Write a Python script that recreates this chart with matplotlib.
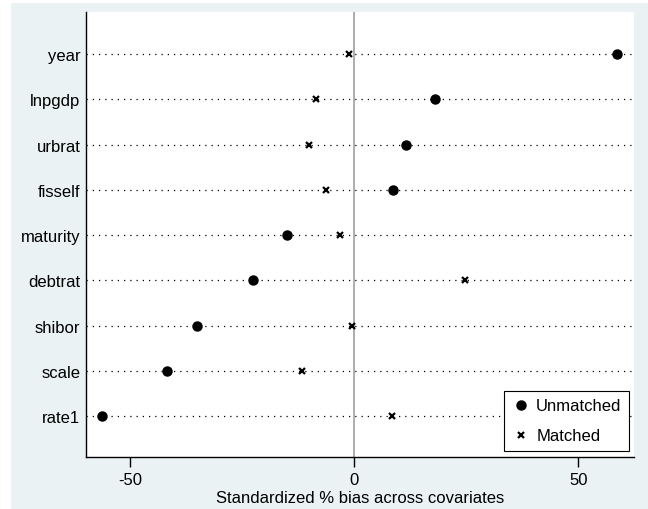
import matplotlib
matplotlib.use("Agg")
import matplotlib.pyplot as plt
from matplotlib.patches import Rectangle

# ================== Data ==================
covariates = ["year", "lnpgdp", "urbrat", "fisself", "maturity",
              "debtrat", "shibor", "scale", "rate1"]
unmatched = [58.7, 17.9, 11.5, 8.6, -15.1, -22.6, -35.1, -41.8, -56.3]
matched = [-1.1, -8.6, -10.2, -6.4, -3.3, 24.6, -0.6, -11.6, 8.5]
xticks = [-50, 0, 50]

plt.rcParams['font.family'] = ['Liberation Sans', 'DejaVu Sans']
plt.rcParams['font.size'] = 12
plt.rcParams['axes.unicode_minus'] = False

bg = "#EAF2F3"
fig = plt.figure(figsize=(6.48, 5.10), dpi=100)
fig.patch.set_facecolor("white")
fig.patches.append(Rectangle((11 / 648, 0), 1 - 11 / 648, 1 - 4 / 510,
                             transform=fig.transFigure, facecolor=bg,
                             edgecolor="none", zorder=-5))

ax = fig.add_axes([86 / 648, 1 - 458 / 510, 548 / 648, 445 / 510])
ax.set_facecolor("white")

n = len(covariates)
ypos = list(range(n, 0, -1))

# dotted guide lines
for y in ypos:
    ax.axhline(y, color="black", linestyle=(0, (1, 4)), linewidth=0.9, zorder=1)
ax.axvline(0, color="#A0A0A0", linewidth=1.2, zorder=1)

ax.plot(unmatched, ypos, "o", color="black", markersize=6.5, linestyle="none",
        label="Unmatched", zorder=3)
ax.plot(matched, ypos, "x", color="black", markersize=4.5, markeredgewidth=1.6,
        linestyle="none", label="Matched", zorder=3)

ax.set_xlim(-59.9, 62.4)
ax.set_ylim(0.094, 9.93)
ax.set_yticks(ypos)
ax.set_yticklabels(covariates)
ax.set_xticks(xticks)
ax.tick_params(axis="x", length=7, width=1, color="black", pad=4)
ax.tick_params(axis="y", length=0, pad=4)
ax.set_xlabel("Standardized % bias across covariates", labelpad=2)

for s in ["top", "right"]:
    ax.spines[s].set_visible(False)
for s in ["left", "bottom"]:
    ax.spines[s].set_color("black")
    ax.spines[s].set_linewidth(1)

leg = ax.legend(loc="lower right", bbox_to_anchor=(0.991, 0.0135),
                borderaxespad=0, fancybox=False, framealpha=1,
                edgecolor="black", handletextpad=0.3, handlelength=1.2,
                borderpad=0.45, labelspacing=0.9)
leg.get_frame().set_linewidth(0.8)

fig.savefig("out.png", dpi=100)
